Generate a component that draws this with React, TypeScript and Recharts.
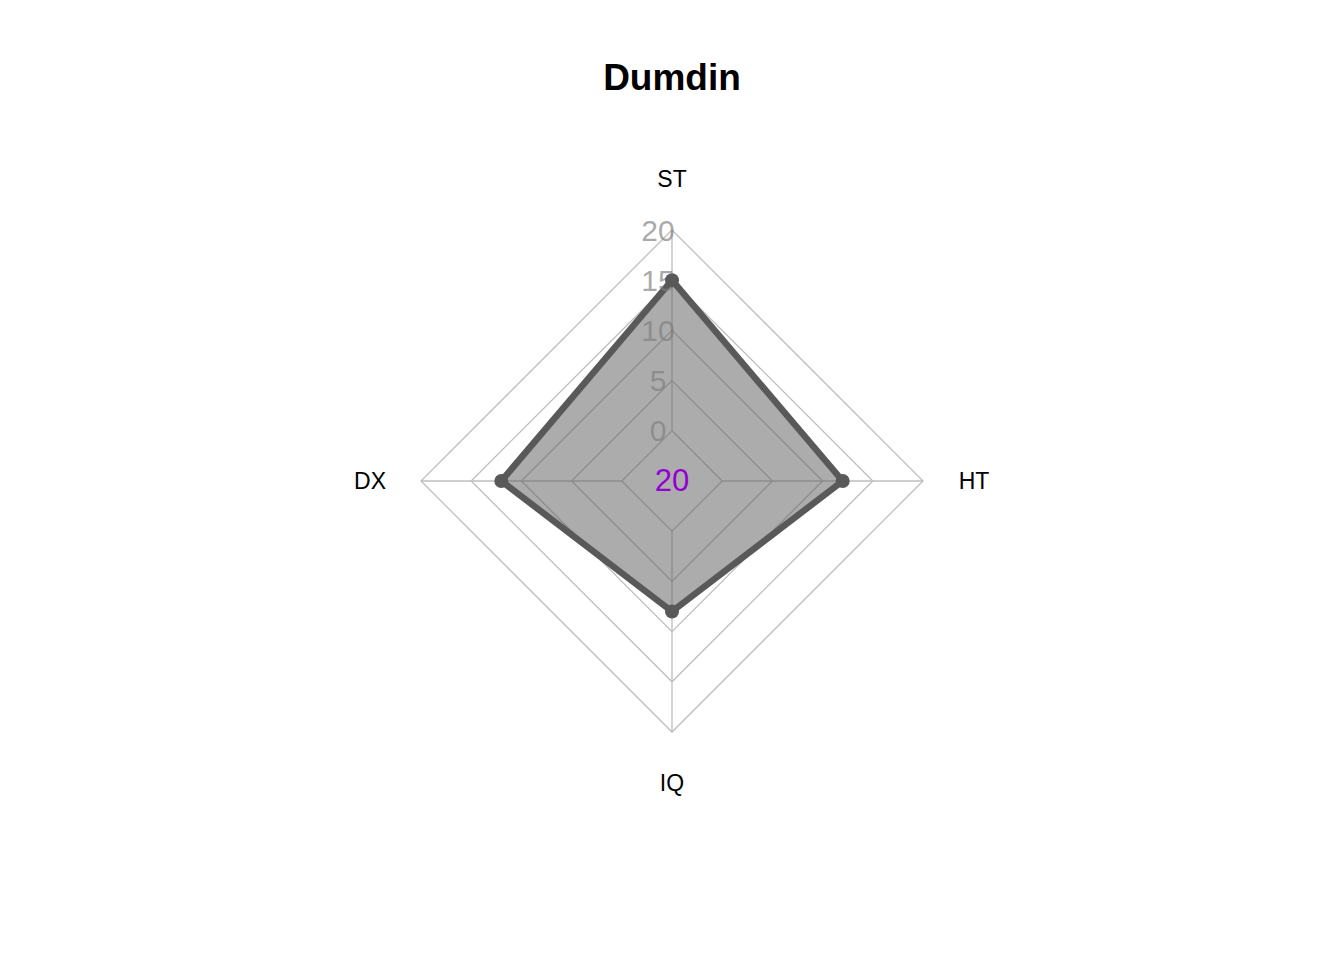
import { RadarChart, Radar, PolarGrid, PolarAngleAxis, PolarRadiusAxis } from 'recharts';

const axes = ['ST', 'HT', 'IQ', 'DX'];
const values = [15, 12, 8, 12];
const radiusTicks = [0, 5, 10, 15, 20];

const CX = 672;
const CY = 481;
const INNER = 50.2;
const OUTER = 251;
const FONT = '"Liberation Sans", Arial, Helvetica, sans-serif';

const data = axes.map((a, i) => ({ axis: a, value: values[i] }));

const AngleTick = (props: any) => {
    const { x, y, payload } = props;
    const dx = x - CX;
    const dy = y - CY;
    const len = Math.sqrt(dx * dx + dy * dy) || 1;
    const r = 302;
    return (
        <text
            x={CX + (dx / len) * r}
            y={CY + (dy / len) * r}
            textAnchor="middle"
            dominantBaseline="central"
            fontFamily={FONT}
            fontSize={23}
            fill="#000"
        >
            {payload.value}
        </text>
    );
};

// semi-transparent so the labels read on both white and the grey fill
const RadiusTick = (props: any) => {
    const { x, y, payload } = props;
    return (
        <text
            x={x - 14}
            y={y}
            textAnchor="middle"
            dominantBaseline="central"
            fontFamily={FONT}
            fontSize={30}
            fill="#7D7D7D"
            fillOpacity={0.66}
        >
            {payload.value}
        </text>
    );
};

export default function App() {
    const gridRadii = radiusTicks.map(t => INNER + ((OUTER - INNER) * t) / 20);
    return (
        <div style={{ position: 'relative', width: 1344, height: 960, background: '#fff' }}>
            <style>{'body{margin:0}'}</style>
            <RadarChart
                width={1344}
                height={960}
                data={data}
                cx={CX}
                cy={CY}
                innerRadius={INNER}
                outerRadius={OUTER}
                margin={{ top: 0, right: 0, bottom: 0, left: 0 }}
            >
                <PolarGrid gridType="polygon" stroke="#BEBEBE" strokeWidth={1.3} polarRadius={gridRadii} />
                <PolarAngleAxis dataKey="axis" tick={AngleTick} tickLine={false} axisLine={false} />
                <PolarRadiusAxis
                    angle={90}
                    type="number"
                    domain={[0, 20]}
                    ticks={radiusTicks}
                    tick={RadiusTick}
                    axisLine={false}
                    tickLine={false}
                />
                <Radar
                    dataKey="value"
                    stroke="#595959"
                    strokeWidth={6.5}
                    fill="#595959"
                    fillOpacity={0.5}
                    dot={{ r: 7, fill: '#595959', stroke: 'none', fillOpacity: 1 }}
                    isAnimationActive={false}
                />
            </RadarChart>
            <div
                style={{
                    position: 'absolute',
                    left: 0,
                    width: 1344,
                    top: 57,
                    textAlign: 'center',
                    fontFamily: FONT,
                    fontWeight: 'bold',
                    fontSize: 37,
                    lineHeight: '42px',
                    color: '#000',
                }}
            >
                Dumdin
            </div>
            <div
                style={{
                    position: 'absolute',
                    left: CX - 50,
                    width: 100,
                    top: CY - 18,
                    textAlign: 'center',
                    fontFamily: FONT,
                    fontSize: 31,
                    lineHeight: '36px',
                    color: '#9400D3',
                }}
            >
                20
            </div>
        </div>
    );
}
